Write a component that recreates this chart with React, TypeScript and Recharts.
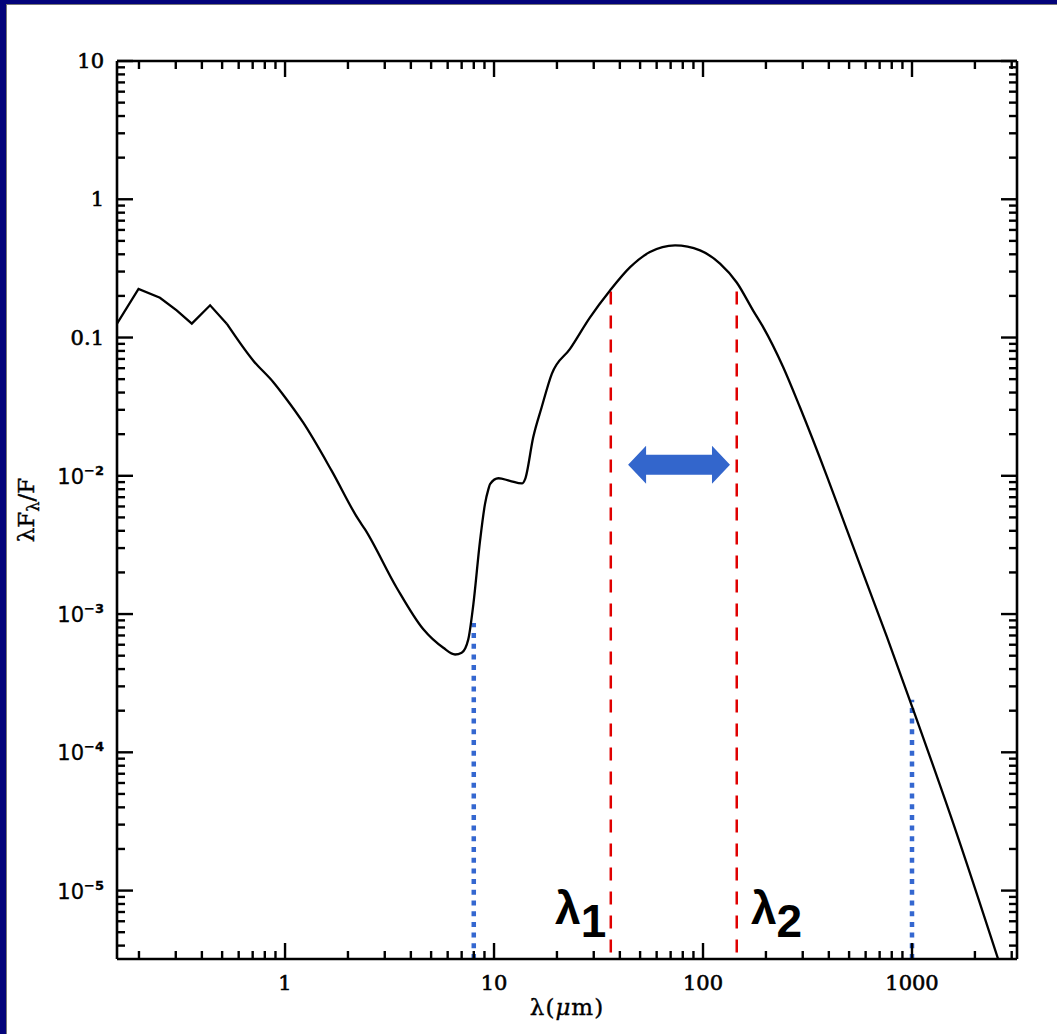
import React from 'react';
import { LineChart, Line, XAxis, YAxis, ReferenceLine, ReferenceDot } from 'recharts';

// spectral energy distribution
const wavelength = [
  0.157, 0.199, 0.252, 0.303, 0.358, 0.438, 0.526, 0.705, 0.879, 1.0,
  1.22, 1.67, 2.24, 2.41, 3.42, 4.59, 5.72, 6.51, 7.0, 7.53,
  7.96, 8.57, 9.05, 9.4, 9.57, 10.5, 11.9, 13.6, 14.1, 15.4,
  16.9, 18.9, 23.1, 28.8, 35.9, 44.8, 55.7, 73.5, 96.8, 120.6,
  145, 174, 194, 242, 291, 391, 487, 607, 757, 1014,
  1577, 2700,
];
const flux = [
  0.126, 0.225, 0.194, 0.157, 0.126, 0.171, 0.126, 0.068, 0.0475, 0.037,
  0.0243, 0.0109, 0.00485, 0.00411, 0.00155, 0.000775, 0.00057, 0.00051, 0.000525, 0.000656,
  0.00117, 0.00338, 0.00624, 0.008, 0.0087, 0.0096, 0.0092, 0.0088, 0.0095, 0.019,
  0.0313, 0.0546, 0.0828, 0.14, 0.219, 0.323, 0.415, 0.464, 0.427, 0.342,
  0.25, 0.156, 0.119, 0.061, 0.0313, 0.01, 0.0041, 0.00168, 0.00069, 0.000203,
  3.05e-5, 2.6e-6,
];
// the short-wavelength part has sharp corners, the rest is smooth
const sharpUpTo = 0.526;

const xDomain = [0.157, 3180];
const yDomain = [3.2e-6, 10];

// tick marks: decades times 1..9
const xDecades = [0.1, 1, 10, 100, 1000];
const yDecades = [1e-6, 1e-5, 1e-4, 1e-3, 1e-2, 0.1, 1, 10];
const multipliers = [1, 2, 3, 4, 5, 6, 7, 8, 9];

const xLabelValues = [1, 10, 100, 1000];
const xLabelText = ['1', '10', '100', '1000'];
const yLabelValues = [10, 1, 0.1, 0.01, 1e-3, 1e-4, 1e-5];
const yLabelBase = ['10', '1', '0.1', '10', '10', '10', '10'];
const yLabelExp = ['', '', '', '−2', '−3', '−4', '−5'];

// markers
const lambda1 = 36.2;
const lambda2 = 145;
const lambdaTop = 0.215;
const bandLow = 8;
const bandLowTop = 8.6e-4;
const bandHigh = 1000;
const bandHighTop = 2.4e-4;
const arrowFrom = 43.8;
const arrowTo = 134.6;
const arrowLevel = 0.012;
const lambda1LabelX = 19.6;
const lambda2LabelX = 169.7;
const lambdaLabelY = 5.77e-6;

const data = wavelength.map((w, i) => ({
  w,
  sharp: w <= sharpUpTo ? flux[i] : undefined,
  smooth: w >= sharpUpTo ? flux[i] : undefined,
}));

const buildTicks = (decades: number[], lo: number, hi: number) =>
  decades
    .flatMap((d) => multipliers.map((m) => d * m))
    .filter((v) => v >= lo && v <= hi);

const xTicks = buildTicks(xDecades, xDomain[0], xDomain[1]);
const yTicks = buildTicks(yDecades, yDomain[0], yDomain[1]);

const isMajor = (v: number) => {
  const l = Math.log10(v);
  return Math.abs(l - Math.round(l)) < 1e-6;
};
const findIndex = (arr: number[], v: number) =>
  arr.findIndex((a) => Math.abs(Math.log10(a) - Math.log10(v)) < 1e-6);

const MAJOR = 16;
const MINOR = 8;
const TICK_W = 2.4;
const LABEL_FONT = '"DejaVu Serif", serif';

const BottomTick = (p: any) => {
  const { x, y, payload } = p;
  const v = payload.value;
  const major = isMajor(v);
  const idx = findIndex(xLabelValues, v);
  return (
    <g>
      <line x1={x} x2={x} y1={y} y2={y - (major ? MAJOR : MINOR)} stroke="#000" strokeWidth={TICK_W} />
      {idx >= 0 && (
        <text x={x} y={y + 31} textAnchor="middle" fontFamily={LABEL_FONT} fontSize={21} fill="#000" stroke="#000" strokeWidth={0.6}>
          {xLabelText[idx]}
        </text>
      )}
    </g>
  );
};

const TopTick = (p: any) => {
  const { x, y, payload } = p;
  const major = isMajor(payload.value);
  return <line x1={x} x2={x} y1={y} y2={y + (major ? MAJOR : MINOR)} stroke="#000" strokeWidth={TICK_W} />;
};

const LeftTick = (p: any) => {
  const { x, y, payload } = p;
  const v = payload.value;
  const major = isMajor(v);
  const idx = findIndex(yLabelValues, v);
  return (
    <g>
      <line x1={x} x2={x + (major ? MAJOR : MINOR)} y1={y} y2={y} stroke="#000" strokeWidth={TICK_W} />
      {idx >= 0 && yLabelExp[idx] === '' && (
        <text x={x - 13} y={y + 7} textAnchor="end" fontFamily={LABEL_FONT} fontSize={21} fill="#000" stroke="#000" strokeWidth={0.6}>
          {yLabelBase[idx]}
        </text>
      )}
      {idx >= 0 && yLabelExp[idx] !== '' && (
        <text x={x - 13} y={y + 8} textAnchor="end" fontFamily='"DejaVu Sans", sans-serif' fontSize={21} fill="#000" stroke="#000" strokeWidth={0.3}>
          {yLabelBase[idx]}
          <tspan fontSize={13} fontWeight="bold" dy={-9}>{yLabelExp[idx]}</tspan>
        </text>
      )}
    </g>
  );
};

const RightTick = (p: any) => {
  const { x, y, payload } = p;
  const major = isMajor(payload.value);
  return <line x1={x} x2={x - (major ? MAJOR : MINOR)} y1={y} y2={y} stroke="#000" strokeWidth={TICK_W} />;
};

const arrowShape = (p: any) => {
  const { x1, x2, y1 } = p;
  const L = Math.min(x1, x2);
  const R = Math.max(x1, x2);
  const y = y1;
  const head = 18;
  const half = 19;
  const shaft = 10;
  const pts = [
    [L, y], [L + head, y - half], [L + head, y - shaft], [R - head, y - shaft], [R - head, y - half],
    [R, y], [R - head, y + half], [R - head, y + shaft], [L + head, y + shaft], [L + head, y + half],
  ];
  return <polygon points={pts.map((q) => q.join(',')).join(' ')} fill="#3366cc" />;
};

const lambdaLabel = (sub: string) => (p: any) => (
  <text x={p.cx} y={p.cy} fontFamily='"Liberation Sans", Arial, sans-serif' fontWeight="bold" fontSize={46} fill="#000">
    λ<tspan dy={13}>{sub}</tspan>
  </text>
);

export default function App() {
  return (
    <div style={{ position: 'absolute', left: 0, top: 0, width: 1057, height: 1034, background: '#03037a' }}>
      <div
        style={{
          position: 'absolute', left: 6, top: 4, right: 0, bottom: 0,
          background: '#fff', borderLeft: '1px solid #777', borderTop: '1px solid #777',
        }}
      />
      <div style={{ position: 'absolute', left: 0, top: 0 }}>
        <LineChart width={1057} height={1034} data={data} margin={{ top: 51, right: 30, bottom: 45, left: 57 }}>
          <XAxis
            xAxisId="b" dataKey="w" type="number" scale="log" domain={xDomain} allowDataOverflow
            ticks={xTicks} interval={0} tickSize={0} tickMargin={0} tickLine={false}
            height={30} axisLine={{ stroke: '#000', strokeWidth: 2.6 }} tick={BottomTick}
            label={{
              content: (lp: any) => {
                const vb = lp.viewBox;
                return (
                  <text x={vb.x + vb.width / 2} y={vb.y + 56} textAnchor="middle" fontFamily={LABEL_FONT} fontSize={23} letterSpacing={1} fill="#000" stroke="#000" strokeWidth={0.4}>
                    λ(<tspan fontStyle="italic">μ</tspan>m)
                  </text>
                );
              },
            }}
          />
          <XAxis
            xAxisId="t" orientation="top" dataKey="w" type="number" scale="log" domain={xDomain} allowDataOverflow
            ticks={xTicks} interval={0} tickSize={0} tickMargin={0} tickLine={false}
            height={10} axisLine={{ stroke: '#000', strokeWidth: 2.6 }} tick={TopTick}
          />
          <YAxis
            yAxisId="l" type="number" scale="log" domain={yDomain} allowDataOverflow
            ticks={yTicks} interval={0} tickSize={0} tickMargin={0} tickLine={false}
            width={60} axisLine={{ stroke: '#000', strokeWidth: 2.6 }} tick={LeftTick}
            label={{
              content: (lp: any) => {
                const vb = lp.viewBox;
                const cx = 34;
                const cy = vb.y + vb.height / 2;
                return (
                  <text x={cx} y={cy} transform={`rotate(-90, ${cx}, ${cy})`} textAnchor="middle" fontFamily={LABEL_FONT} fontSize={23} fill="#000" stroke="#000" strokeWidth={0.4}>
                    λF<tspan fontSize={16} dy={5}>λ</tspan><tspan dy={-5}>/F</tspan>
                  </text>
                );
              },
            }}
          />
          <YAxis
            yAxisId="r" orientation="right" type="number" scale="log" domain={yDomain} allowDataOverflow
            ticks={yTicks} interval={0} tickSize={0} tickMargin={0} tickLine={false}
            width={10} axisLine={{ stroke: '#000', strokeWidth: 2.6 }} tick={RightTick}
          />
          <ReferenceLine
            xAxisId="b" yAxisId="l" ifOverflow="visible"
            segment={[{ x: lambda1, y: lambdaTop }, { x: lambda1, y: yDomain[0] }]}
            stroke="#e00000" strokeWidth={2.5} strokeDasharray="13 11"
          />
          <ReferenceLine
            xAxisId="b" yAxisId="l" ifOverflow="visible"
            segment={[{ x: lambda2, y: lambdaTop }, { x: lambda2, y: yDomain[0] }]}
            stroke="#e00000" strokeWidth={2.5} strokeDasharray="13 11"
          />
          <ReferenceLine
            xAxisId="b" yAxisId="l" ifOverflow="visible"
            segment={[{ x: bandLow, y: yDomain[0] }, { x: bandLow, y: bandLowTop }]}
            stroke="#3467d0" strokeWidth={4.5} strokeDasharray="5 5.7"
          />
          <ReferenceLine
            xAxisId="b" yAxisId="l" ifOverflow="visible"
            segment={[{ x: bandHigh, y: yDomain[0] }, { x: bandHigh, y: bandHighTop }]}
            stroke="#3467d0" strokeWidth={4.5} strokeDasharray="5 5.7"
          />
          <ReferenceLine
            xAxisId="b" yAxisId="l" ifOverflow="visible"
            segment={[{ x: arrowFrom, y: arrowLevel }, { x: arrowTo, y: arrowLevel }]}
            shape={arrowShape}
          />
          <ReferenceDot xAxisId="b" yAxisId="l" x={lambda1LabelX} y={lambdaLabelY} ifOverflow="visible" shape={lambdaLabel('1')} />
          <ReferenceDot xAxisId="b" yAxisId="l" x={lambda2LabelX} y={lambdaLabelY} ifOverflow="visible" shape={lambdaLabel('2')} />
          <Line
            xAxisId="b" yAxisId="l" dataKey="sharp" type="linear" stroke="#000" strokeWidth={2.3}
            dot={false} activeDot={false} connectNulls={false} isAnimationActive={false}
          />
          <Line
            xAxisId="b" yAxisId="l" dataKey="smooth" type="monotoneX" stroke="#000" strokeWidth={2.3}
            dot={false} activeDot={false} connectNulls={false} isAnimationActive={false}
          />
        </LineChart>
      </div>
    </div>
  );
}
